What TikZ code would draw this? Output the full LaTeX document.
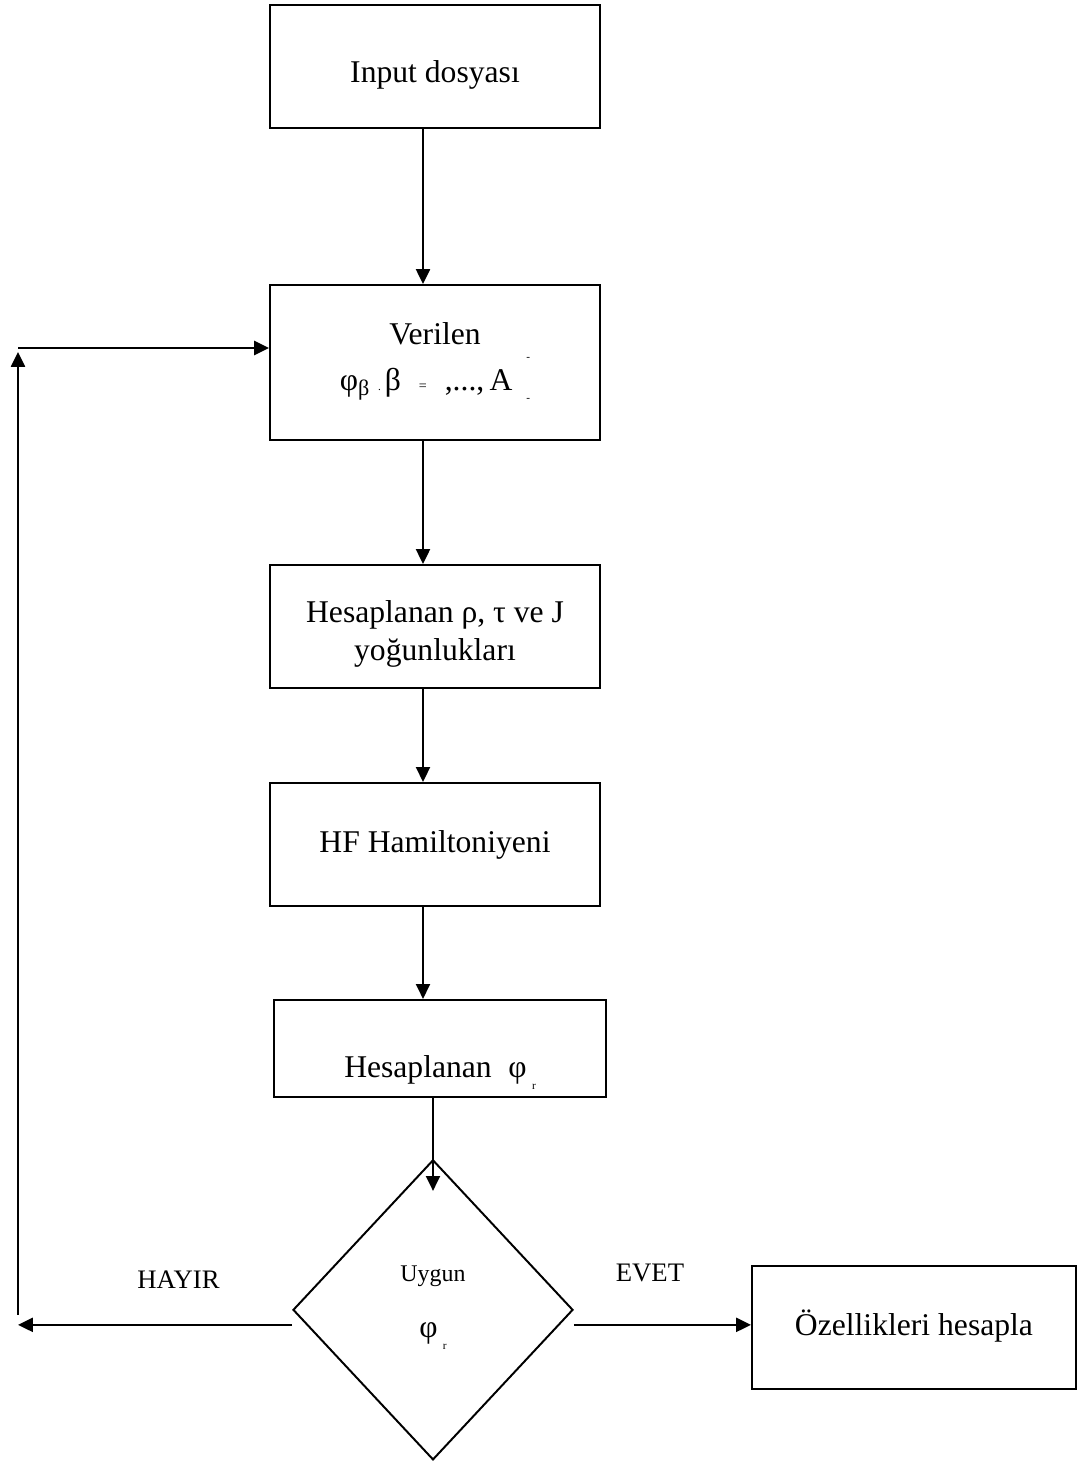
\documentclass[tikz,border=0pt]{standalone}
\usepackage{fontspec}
\setmainfont{Liberation Serif}
\usepackage{tikz}
\usetikzlibrary{positioning,shapes,arrows.meta}
\tikzstyle{blok}=[%
      rectangle, draw=black, line width=1.4pt, fill=none,
      minimum height=3.075cm, minimum width=8.25cm, inner sep=6pt, align=center,
      font=\fontsize{22.5}{31}\selectfont
]
\tikzstyle{karar}=[%
      diamond, draw=black, line width=1.4pt, fill=none, aspect=1,
      minimum height=7.5cm, minimum width=7cm, inner sep=0pt, align=center
]
\tikzstyle{etiket}=[anchor=base, font=\fontsize{19}{22}\selectfont]
% text lowered inside its box, baseline #1 below the centre
\newcommand{\yazi}[2]{\raisebox{-#1}[0pt][0pt]{#2}}
\newcommand{\minik}[1]{{\fontsize{8}{8}\selectfont #1}}
\newcommand{\izler}{\rlap{\raisebox{0.73cm}{\minik{-}}}\raisebox{-0.29cm}{\minik{-}}}
\newcommand{\altiz}{\raisebox{-0.3cm}{\minik{r}}}

\begin{document}
\begin{tikzpicture}[
    line width=1.4pt,
    -{Triangle[length=3.7mm,width=3.5mm]}
  ]
    \useasboundingbox (0,0) rectangle (27.1,-36.7);

    \node[blok] (inp) at (10.875,-1.6625) {\yazi{0.41cm}{Input dosyası}};
    \node[blok, minimum height=3.875cm] (ver) [below = 3.875cm of inp]
         {\yazi{0.69cm}{\fontsize{22.5}{32}\selectfont\begin{tabular}[b]{@{}c@{}}Verilen\\
          φ\textsubscript{β}\hspace{0.2cm}\minik{.}\hspace{0.1cm}β\hspace{0.45cm}{\fontsize{10}{10}\selectfont =}\hspace{0.45cm},...,\,A\hspace{0.35cm}\izler\end{tabular}}};
    \node[blok] (yog) [below = 3.075cm of ver]
         {\yazi{0.84cm}{\fontsize{22.5}{27}\selectfont\begin{tabular}[b]{@{}c@{}}Hesaplanan ρ, τ ve J\\yoğunlukları\end{tabular}}};
    \node[blok] (hf) [below = 2.325cm of yog] {\yazi{0.21cm}{HF Hamiltoniyeni}};
    \node[blok, minimum height=2.425cm, minimum width=8.3cm] (hes)
         [below = 2.3cm of hf, xshift=0.125cm] {\yazi{0.74cm}{Hesaplanan\; φ\,\altiz}};
    \node[karar] (uyg) [below = 1.525cm of hes, xshift=-0.175cm]
         {\makebox[0pt]{\yazi{-0.7cm}{\fontsize{17}{20}\selectfont Uygun}}%
          \makebox[0pt]{\yazi{0.68cm}{\fontsize{22.5}{26}\selectfont φ\,\altiz}}};
    \node[blok, minimum width=8.1cm] (oz) [right = 4.425cm of uyg, yshift=-0.45cm]
         {\yazi{0.19cm}{Özellikleri hesapla}};

    \node[etiket] (hayir) at (4.4625,-32.2) {HAYIR};
    \node[etiket] (evet) at (16.25,-32.025) {EVET};

    \coordinate (donus) at (0.45,-8.7);
    \coordinate (ust) at (0.45,-8.8);
    \coordinate (sol) at ([yshift=-3.75mm]uyg.west -| donus);
    \coordinate (solust) at ([yshift=2.5mm]sol);

    \path ([xshift=-3mm]inp.south) edge ([xshift=-3mm]inp.south |- ver.north)
          ([xshift=-3mm]ver.south) edge ([xshift=-3mm]ver.south |- yog.north)
          ([xshift=-3mm]yog.south) edge ([xshift=-3mm]yog.south |- hf.north)
          ([xshift=-3mm]hf.south) edge ([xshift=-3mm]hf.south |- hes.north)
          (hes.south -| uyg.north) edge ([yshift=-8mm]uyg.north)
          ([yshift=-3.75mm]uyg.west) edge (sol)
          ([yshift=-3.75mm]uyg.east) edge ([yshift=-3.75mm]uyg.east -| oz.west)
          (solust) edge (ust)
          (donus) edge (donus -| ver.west)
    ;

  \end{tikzpicture}
\end{document}
